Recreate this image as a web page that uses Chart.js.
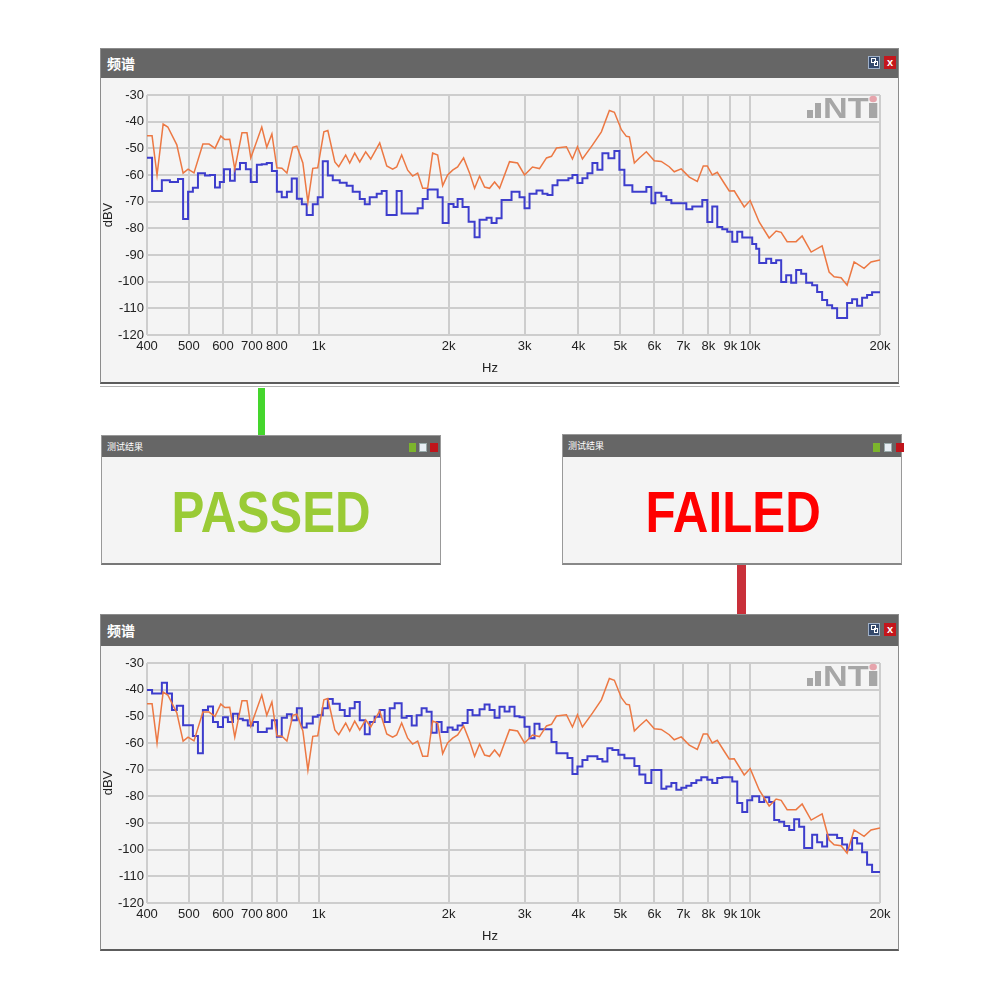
<!DOCTYPE html>
<html>
<head>
<meta charset="utf-8">
<script src="https://cdn.jsdelivr.net/npm/chart.js"></script>
<style>
body{margin:0;width:1000px;height:1000px;background:#fff;position:relative;overflow:hidden;font-family:"Liberation Sans",Arial,sans-serif}
.win{position:absolute;background:#f4f4f4;border:1px solid #8c8c8c;border-bottom:2px solid #5c5c5c;box-sizing:border-box}
.bar{position:absolute;left:0;right:0;top:0;background:#666;color:#fff;font-family:"Noto Sans CJK SC",sans-serif;font-weight:bold}
.box{position:absolute}
.ico{position:absolute;box-sizing:border-box}
.verdict{position:absolute;left:0;right:0;text-align:center;font-family:"Liberation Sans",sans-serif;font-weight:bold;font-size:58px;line-height:58px}
.verdict span{display:inline-block;transform:scaleX(0.85)}
</style>
</head>
<body>

<!-- top spectrum window -->
<div class="win" style="left:100px;top:48px;width:799px;height:336px">
  <div class="bar" style="height:29px;font-size:14px;line-height:29px;padding-left:6px">频谱</div>
</div>
<div class="ico" style="left:868px;top:56px;width:12px;height:13px;background:#34496b;border:1px solid #9fb0c8"></div>
<div class="ico" style="left:871px;top:58px;width:5px;height:5px;border:1px solid #fff"></div>
<div class="ico" style="left:874px;top:61px;width:4px;height:5px;border:1px solid #fff"></div>
<div class="ico" style="left:884px;top:56px;width:12px;height:13px;background:#c4161c;color:#fff;font:bold 11px/13px 'Liberation Sans';text-align:center">x</div>
<div class="box" style="left:101px;top:77px;width:797px;height:304px"><canvas id="chartPass"></canvas></div>
<div class="box" style="left:100px;top:386px;width:800px;height:1px;background:#b4b4b4"></div>

<!-- connectors -->
<div class="box" style="left:258px;top:388px;width:7px;height:47px;background:#45d62d"></div>
<div class="box" style="left:737px;top:565px;width:9px;height:49px;background:#c9303a"></div>

<!-- result windows -->
<div class="win" style="left:101px;top:435px;width:340px;height:130px;border-color:#999;border-bottom-color:#777">
  <div class="bar" style="height:21px;font-size:9px;line-height:21px;padding-left:5px;font-weight:normal">测试结果</div>
  <div class="verdict" style="top:47px;color:#9acb36"><span>PASSED</span></div>
</div>
<div class="ico" style="left:409px;top:443px;width:7px;height:9px;background:#7cb52c"></div>
<div class="ico" style="left:419px;top:443px;width:8px;height:9px;background:#e8eef4;border:1px solid #9aa"></div>
<div class="ico" style="left:430px;top:443px;width:8px;height:9px;background:#c0141b"></div>

<div class="win" style="left:562px;top:434px;width:340px;height:131px;border-color:#999;border-bottom-color:#888">
  <div class="bar" style="height:22px;font-size:9px;line-height:22px;padding-left:5px;font-weight:normal">测试结果</div>
  <div class="verdict" style="top:48px;color:#ff0000;padding-left:3px"><span>FAILED</span></div>
</div>
<div class="ico" style="left:873px;top:443px;width:7px;height:9px;background:#7cb52c"></div>
<div class="ico" style="left:884px;top:443px;width:8px;height:9px;background:#e8eef4;border:1px solid #9aa"></div>
<div class="ico" style="left:896px;top:443px;width:8px;height:9px;background:#c0141b"></div>

<!-- bottom spectrum window -->
<div class="win" style="left:100px;top:614px;width:799px;height:337px">
  <div class="bar" style="height:31px;font-size:14px;line-height:31px;padding-left:6px">频谱</div>
</div>
<div class="ico" style="left:868px;top:623px;width:12px;height:13px;background:#34496b;border:1px solid #9fb0c8"></div>
<div class="ico" style="left:871px;top:625px;width:5px;height:5px;border:1px solid #fff"></div>
<div class="ico" style="left:874px;top:628px;width:4px;height:5px;border:1px solid #fff"></div>
<div class="ico" style="left:884px;top:623px;width:12px;height:13px;background:#c4161c;color:#fff;font:bold 11px/13px 'Liberation Sans';text-align:center">x</div>
<div class="box" style="left:101px;top:645px;width:797px;height:304px"><canvas id="chartFail"></canvas></div>

<script>
// x axis ticks (Hz) and their labels
var tickHz = [400,500,600,700,800,900,1000,2000,3000,4000,5000,6000,7000,8000,9000,10000,20000];
var tickText = ['400','500','600','700','800','','1k','2k','3k','4k','5k','6k','7k','8k','9k','10k','20k'];

// orange reference trace (same in both panels)
var refHz = [400,411,422,436,447,469,485,498,514,539,557,575,593,606,622,639,664,682,696,738,
  758,779,800,822,844,871,890,919,944,969,995,1028,1050,1090,1113,1155,1180,1212,1245,1285,
  1320,1385,1438,1484,1516,1557,1608,1651,1696,1742,1789,1837,1887,1938,1990,2044,2099,2167,2238,2298,
  2360,2424,2489,2557,2626,2769,2890,3000,3130,3249,3373,3464,3558,3752,3874,3979,4086,4310,4521,4718,
  4846,5030,5166,5250,5391,5537,5747,5997,6224,6494,6670,6923,7227,7543,7788,7956,8172,8393,8710,8945,
  9187,9690,10004,10495,11070,11491,11803,12185,12780,13200,13850,14684,15244,15655,16249,16780,17417,18370,19066,20000];
var refDb = [-45.3,-45.3,-60,-40.9,-42,-48.7,-59.3,-57.8,-59.2,-48.4,-48.4,-50,-45.4,-46.7,-46.6,-57.8,-44.2,-44.2,-53.6,-42,
  -49.6,-44.6,-57.3,-57.5,-59.3,-49.6,-49.2,-55.5,-70.2,-57.5,-57.3,-43.8,-43.3,-55.1,-56.9,-52.5,-55.5,-51.8,-55.1,-51.3,
  -54,-48,-56.6,-57.8,-57,-52.5,-58.2,-60.4,-59.3,-65,-65,-51.8,-52.5,-64,-60,-58.2,-57,-53.6,-59.3,-65,
  -60.4,-64.5,-65,-62.6,-65,-55,-55.5,-60,-57,-57.6,-53.6,-53,-49.9,-49.4,-54,-49.4,-54,-48.8,-43.8,-35.8,
  -36.5,-43,-45.5,-45.7,-55.5,-53.6,-51.3,-54.7,-54.9,-56.9,-58.8,-57.7,-60.8,-62.4,-56.6,-56.6,-60,-59,-63.1,-66,
  -65.9,-72,-69.6,-77.6,-83.6,-81,-81.5,-85,-85,-82.9,-88.9,-86.6,-96.4,-98.2,-98.5,-101.3,-92.6,-95,-92.6,-91.9];

// blue measured trace, top panel (passed)
var passHz = [400,411,433,452,472,485,498,511,525,545,560,575,590,603,623,639,657,678,696,719,
  738,758,779,800,821,844,866,890,914,938,969,995,1022,1050,1078,1119,1161,1199,1245,1279,
  1313,1363,1400,1437,1516,1557,1696,1742,1789,1887,1938,2000,2054,2099,2155,2226,2298,2360,2450,2516,
  2584,2654,2799,2921,3000,3081,3198,3302,3391,3483,3577,3792,3874,3979,4086,4197,4310,4426,4546,4694,
  4846,4977,5112,5334,5748,5904,6029,6227,6395,6568,7114,7345,7747,7957,8171,8392,8619,8852,9090,9336,
  9588,10112,10330,10497,10896,11190,11492,11803,12122,12449,12786,13131,13486,13924,14300,14686,15083,15490,15909,16780,
  17234,17699,18178,18668,19173,20000];
var passDb = [-53.5,-66,-62,-62.6,-61.5,-76.5,-66.3,-64.8,-59.3,-60.2,-60,-64.7,-62.6,-57.8,-62.2,-57.8,-55.5,-57.8,-62.6,-56.2,
  -56,-55.5,-58.5,-66.3,-68.3,-66.3,-61.3,-68.9,-71,-75,-71,-68.3,-54.8,-60.2,-62,-62.9,-64,-66.3,-69,-71,
  -68.3,-67,-66,-75,-66,-74.4,-72.5,-69,-65.4,-68.3,-78,-70.9,-72,-69,-72,-77.5,-83.3,-76.8,-76,-78,
  -76.2,-69.4,-66.3,-68.3,-72.5,-67,-65.8,-67,-67.5,-63.8,-62,-61.2,-60,-63,-61.2,-59.3,-55.5,-58,-51.8,-53.7,
  -51,-58,-63.8,-66.3,-64.5,-70.6,-66.7,-68,-69.4,-70.6,-72.8,-71.8,-69.4,-77.6,-71.8,-79.5,-80.3,-81.3,-85,-81.3,
  -83.4,-85.9,-87.7,-93,-91.4,-93,-92,-100.1,-97.6,-100.4,-95.6,-97,-100.4,-101.3,-103.9,-106.9,-108.8,-110,-113.6,-108,
  -106.6,-109,-106,-105,-104,-104];

// blue measured trace, bottom panel (failed)
var failHz = [400,411,433,445,457,469,485,511,525,539,554,569,584,600,616,633,650,667,685,704,
  723,758,779,800,821,844,866,890,914,938,969,995,1022,1050,1078,1119,1149,1180,1212,1245,
  1279,1313,1348,1385,1422,1461,1500,1557,1599,1643,1687,1732,1779,1827,1877,1927,1990,2044,2099,2155,
  2214,2273,2360,2424,2489,2557,2625,2697,2769,2844,2921,3000,3081,3164,3249,3464,3558,3773,3874,3979,
  4086,4197,4426,4546,4669,4795,4951,5112,5392,5537,5717,5904,6227,6395,6568,6745,6928,7114,7307,7504,
  7707,7957,8171,8392,8619,9090,9336,9588,9847,10112,10497,10780,11072,11371,11677,11993,12318,12650,12991,13343,
  13924,14300,14686,15083,15909,16340,16780,17234,17699,18178,18668,19173,20000];
var failDb = [-40.1,-41.4,-37.4,-41.4,-47.6,-46,-53.3,-57.4,-63.8,-47.6,-46.3,-52.1,-54,-50.3,-52.1,-49,-50.9,-51.5,-53.4,-52.1,
  -55.9,-54.6,-51.5,-57.7,-50.5,-49.2,-51.5,-47,-54.2,-52.7,-50.2,-49.6,-47,-43.5,-45.3,-47.6,-49.9,-47,-44.6,-51.5,
  -56.7,-52.1,-50.2,-47.6,-52.1,-47,-45.1,-50.5,-49.9,-53.4,-49.6,-47,-48.3,-56.2,-52.1,-55.9,-54.2,-55,-53.4,-52.5,
  -47.6,-49.6,-47.3,-45.6,-47.6,-50.5,-46.4,-48.2,-46.4,-50,-50.3,-53.9,-58.2,-52.8,-54.8,-59.6,-63.8,-65.6,-71.6,-68.8,
  -66.4,-65,-66,-66.9,-62,-62.6,-64.4,-65.7,-68.6,-71.8,-75,-70.1,-77.2,-76.3,-75,-77.5,-76.8,-76,-75,-74,
  -72.8,-73.8,-75,-73.1,-72.8,-74.4,-82.5,-85.9,-81.5,-80,-82.1,-80.3,-82.1,-88.9,-89.5,-91.1,-92.6,-88.6,-91.4,-99.4,
  -94.4,-97.2,-98.8,-94.4,-95.6,-98.1,-100,-95.6,-97.7,-101,-105.7,-108.4,-108.4];

Chart.defaults.font.family = '"Liberation Sans", Arial, sans-serif';
Chart.defaults.font.size = 13;
Chart.defaults.color = '#222';

// grey NTi mark in the plot corner, and the Hz caption left of centre
var decorations = {
  id: 'decorations',
  beforeDatasetsDraw: function(chart){
    var ctx = chart.ctx, a = chart.chartArea;
    ctx.save();
    ctx.fillStyle = '#a6a6a6';
    ctx.fillRect(a.right - 73, a.top + 15, 6, 8);
    ctx.fillRect(a.right - 65, a.top + 8, 6, 15);
    ctx.translate(a.right - 57, a.top + 23);
    ctx.scale(1.18, 1);
    ctx.font = 'bold 29px "Liberation Sans"';
    ctx.textAlign = 'left';
    ctx.textBaseline = 'alphabetic';
    ctx.fillText('NT', 0, 0);
    ctx.fillRect(39, -15, 7, 15);
    ctx.fillStyle = '#e6a4ac';
    ctx.beginPath();
    ctx.arc(42.5, -19, 3.2, 0, Math.PI * 2);
    ctx.fill();
    ctx.restore();
  },
  afterDraw: function(chart){
    var ctx = chart.ctx, a = chart.chartArea;
    ctx.save();
    ctx.fillStyle = '#222';
    ctx.font = '13px "Liberation Sans"';
    ctx.textAlign = 'center';
    ctx.textBaseline = 'middle';
    ctx.fillText('Hz', a.left + 343, a.bottom + 33);
    ctx.restore();
  }
};

function points(hz, db){
  var out = [];
  for (var i = 0; i < hz.length; i++) out.push({x: hz[i], y: db[i]});
  return out;
}

function showGraph(id, blueHz, blueDb)
{
  var chartdata = {
    datasets: [
      {
        data: points(refHz, refDb),
        borderColor: '#ec7843',
        borderWidth: 1.5,
        pointRadius: 0,
        tension: 0
      },
      {
        data: points(blueHz, blueDb),
        borderColor: '#3d3dcc',
        borderWidth: 2,
        pointRadius: 0,
        stepped: 'before'
      }
    ]
  };
  var options = {
    responsive: true,
    maintainAspectRatio: false,
    animation: false,
    layout: {padding: {top: 18, right: 18, left: 0, bottom: 0}},
    plugins: {legend: {display: false}, tooltip: {enabled: false}},
    scales: {
      x: {
        type: 'logarithmic',
        min: 400,
        max: 20000,
        afterBuildTicks: function(s){ s.ticks = tickHz.map(function(v){ return {value: v}; }); },
        afterFit: function(s){ s.height = 46; },
        ticks: {
          autoSkip: false,
          maxRotation: 0,
          padding: 4,
          callback: function(v, i){ return tickText[i]; }
        },
        grid: {color: '#cdcdcd', lineWidth: 2, drawTicks: false},
        border: {display: false},
        title: {display: false}
      },
      y: {
        min: -120,
        max: -30,
        afterFit: function(s){ s.width = 46; },
        ticks: {stepSize: 10, padding: 3},
        grid: {color: '#cdcdcd', lineWidth: 2, drawTicks: false},
        border: {display: false},
        title: {display: true, text: 'dBV', padding: {top: 0, bottom: 0}}
      }
    }
  };
  new Chart(document.getElementById(id), {
    type: 'line',
    data: chartdata,
    options: options,
    plugins: [decorations]
  });
}

showGraph('chartPass', passHz, passDb);
showGraph('chartFail', failHz, failDb);
</script>
</body>
</html>
